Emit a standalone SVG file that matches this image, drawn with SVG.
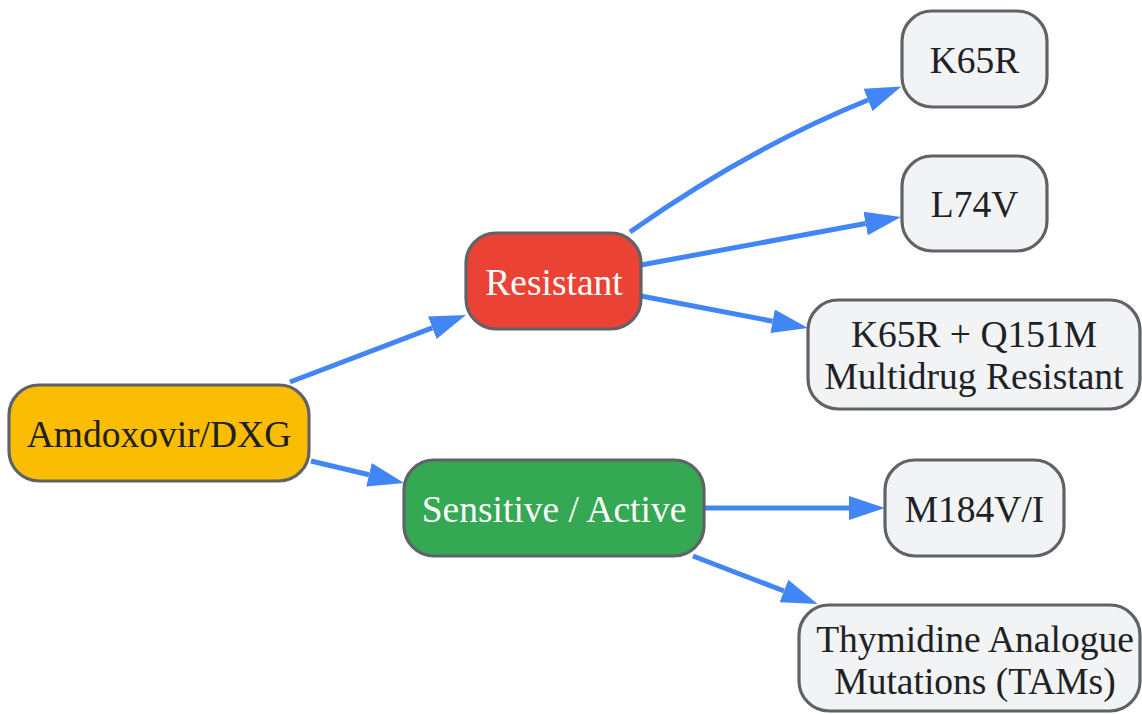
<svg xmlns="http://www.w3.org/2000/svg" width="1142" height="714" viewBox="0 0 1142 714">
<style>
.n{stroke:#5f6368;stroke-width:3.2}
.t{font-family:"Liberation Serif","Times New Roman",serif;font-size:37.5px;text-anchor:middle}
.d{fill:#202124}
.w{fill:#ffffff}
.e{fill:none;stroke:#4285f4;stroke-width:5}
</style>
<defs>
<marker id="ah" markerUnits="userSpaceOnUse" markerWidth="37" markerHeight="25" refX="0" refY="12" orient="auto" viewBox="0 0 37 24">
<path d="M0,0 L36,12 L0,24 Z" fill="#4285f4"/>
</marker>
</defs>
<rect width="1142" height="714" fill="#ffffff"/>
<g id="edges">
<path class="e" d="M290,382 L432.3,327.8" marker-end="url(#ah)"/>
<path class="e" d="M311,461 L369,474.7" marker-end="url(#ah)"/>
<path class="e" d="M630,232 Q749,148 868,100" marker-end="url(#ah)"/>
<path class="e" d="M641,265 L865.6,223.5" marker-end="url(#ah)"/>
<path class="e" d="M641,296 L772.6,321.2" marker-end="url(#ah)"/>
<path class="e" d="M704,508 L849,508" marker-end="url(#ah)"/>
<path class="e" d="M693,556 L784,591" marker-end="url(#ah)"/>
</g>
<g id="amdoxovir">
<rect class="n" x="9" y="385" width="300" height="96" rx="30" fill="#fbbc04"/>
<text class="t d" x="159" y="447">Amdoxovir/DXG</text>
</g>
<g id="resistant">
<rect class="n" x="466" y="233" width="175" height="96" rx="30" fill="#ea4335"/>
<text class="t w" x="554" y="295">Resistant</text>
</g>
<g id="sensitive">
<rect class="n" x="404" y="460" width="300" height="96" rx="30" fill="#34a853"/>
<text class="t w" x="554" y="522">Sensitive / Active</text>
</g>
<g id="k65r">
<rect class="n" x="902" y="11" width="145" height="96" rx="30" fill="#f1f3f4"/>
<text class="t d" x="974.5" y="73">K65R</text>
</g>
<g id="l74v">
<rect class="n" x="902" y="156" width="145" height="95" rx="30" fill="#f1f3f4"/>
<text class="t d" x="974.5" y="217">L74V</text>
</g>
<g id="k65r_q151m">
<rect class="n" x="808" y="300" width="332" height="109" rx="30" fill="#f1f3f4"/>
<text class="t d" x="974" y="347">K65R + Q151M</text>
<text class="t d" x="974" y="389">Multidrug Resistant</text>
</g>
<g id="m184v">
<rect class="n" x="885" y="460" width="179" height="96" rx="30" fill="#f1f3f4"/>
<text class="t d" x="974.5" y="522">M184V/I</text>
</g>
<g id="tams">
<rect class="n" x="799" y="605" width="341" height="106" rx="30" fill="#f1f3f4"/>
<text class="t d" x="975" y="652">Thymidine Analogue</text>
<text class="t d" x="975" y="694">Mutations (TAMs)</text>
</g>
</svg>
